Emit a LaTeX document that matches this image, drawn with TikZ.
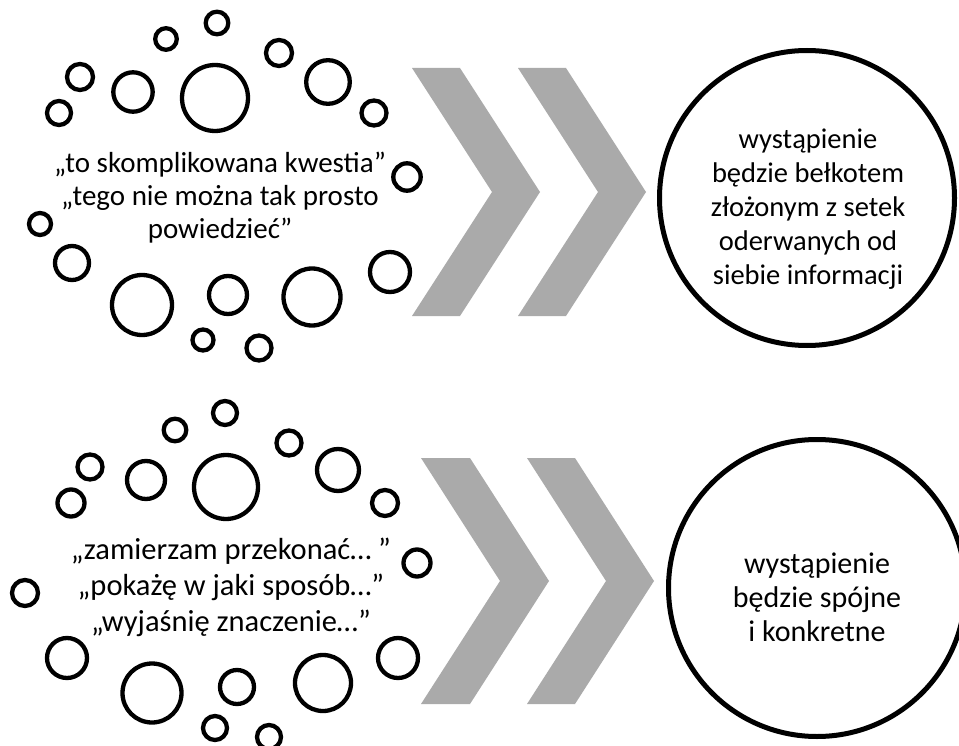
\documentclass[tikz,border=0pt]{standalone}
\usepackage{fontspec}
\setmainfont{Carlito}
\definecolor{chevgray}{RGB}{170,170,170}
\begin{document}
\begin{tikzpicture}[x=1pt,y=-1pt,
  bub/.style={circle,draw=black,line width=4.3pt,inner sep=0pt,fill=none},
  bigbub/.style={circle,draw=black,line width=5pt,inner sep=0pt,fill=white},
  chev/.style={fill=chevgray,draw=none},
  txt/.style={align=center,inner sep=0pt}]
\useasboundingbox (0,0) rectangle (959,746);
\fill[white] (0,0) rectangle (959,746);
% ---- top group small circles
\foreach \x/\y/\r [count=\i] in {217/23/11.3,166/39/10.8,279/53/13,80/77/13,133/92/19.7,215/98/33,328/82/21.8,59/113/12,374/113/12.5,407/177/13.7,40/224/11,72/263/17,390/272/20,142/305/30,228/295/19,312/297/28.5,203/340/10.5,259/348/12.5}
  \node[bub,minimum size={2*\r pt}] (ta\i) at (\x,\y) {};
% ---- bottom group small circles
\foreach \x/\y/\r [count=\i] in {225/413/12,175/430/11.3,289/443/12.5,90/467/12.5,146/480/19,226/487/32,338/470/21,71/503/13.5,385/503/13,417/563/13.5,25/593/13,67/658/20,398/658/20,152/693/29.5,237/687/17,323/683/28,215/728/12,269/737/12}
  \node[bub,minimum size={2*\r pt}] (ba\i) at (\x,\y) {};
% ---- texts on the left
\node[txt,font=\fontsize{29}{33}\selectfont] (tq) at (220,198) {„to skomplikowana kwestia”\\„tego nie można tak prosto\\powiedzieć”};
\node[txt,font=\fontsize{30.5}{36}\selectfont] (bq) at (231,587) {„zamierzam przekonać… ”\\„pokażę w jaki sposób…”\\„wyjaśnię znaczenie…”};
% ---- chevrons top
\fill[chev] (412,68) -- (460,68) -- (540,192) -- (460,316) -- (412,316) -- (492,192) -- cycle;
\fill[chev] (518,68) -- (566,68) -- (646,192) -- (566,316) -- (518,316) -- (598,192) -- cycle;
% ---- chevrons bottom
\fill[chev] (421,458) -- (470,458) -- (549,581) -- (470,704) -- (421,704) -- (500,581) -- cycle;
\fill[chev] (527,458) -- (575,458) -- (654,581) -- (575,704) -- (527,704) -- (606,581) -- cycle;
% ---- big circles
\node[bigbub,minimum size=295pt] (tc) at (807,198) {};
\node[txt,font=\fontsize{28.5}{34}\selectfont] (tt) at (808,209) {wystąpienie\\będzie bełkotem\\złożonym z setek\\oderwanych od\\siebie informacji};
\node[bigbub,minimum size=297pt] (bc) at (817,588) {};
\node[txt,font=\fontsize{30}{34}\selectfont] (bt) at (817,597) {wystąpienie\\będzie spójne\\i konkretne};
\end{tikzpicture}
\end{document}
